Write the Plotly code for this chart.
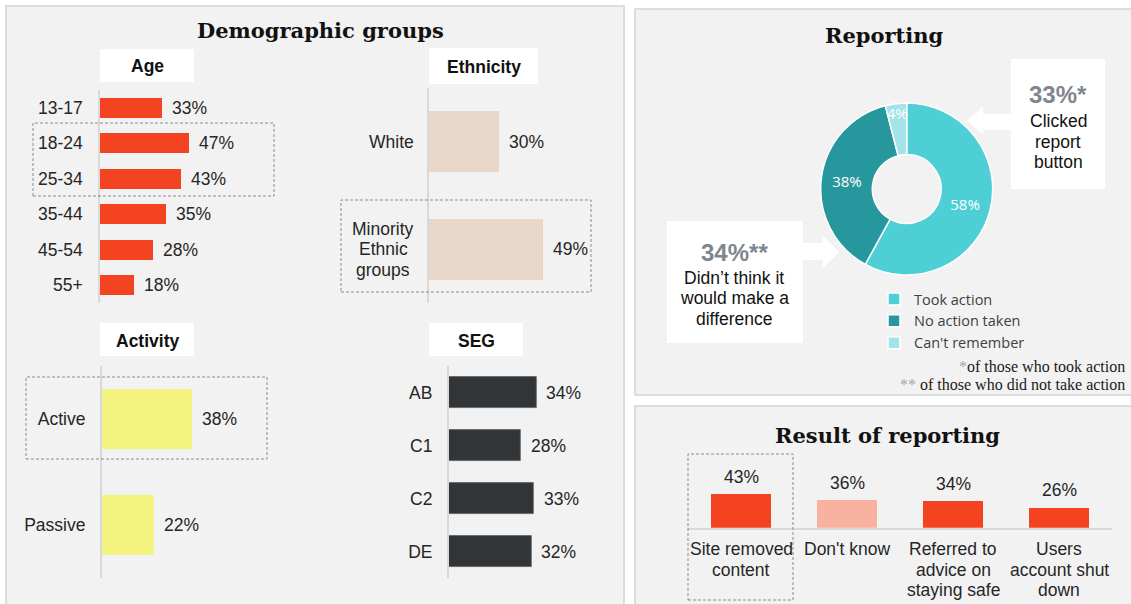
import plotly.graph_objects as go

W, H = 1131, 604


def X(p):
    return p / W


def Y(p):
    return 1 - p / H


# ---- data ----
age_groups = ["13-17", "18-24", "25-34", "35-44", "45-54", "55+"]
age_pct = [33, 47, 43, 35, 28, 18]

ethnicity_groups = ["White", "Minority<br>Ethnic<br>groups"]
ethnicity_pct = [30, 49]

activity_groups = ["Active", "Passive"]
activity_pct = [38, 22]

seg_groups = ["AB", "C1", "C2", "DE"]
seg_pct = [34, 28, 33, 32]

reporting_labels = ["Took action", "No action taken", "Can't remember"]
reporting_pct = [58, 38, 4]

result_labels = ["Site removed<br>content", "Don't know",
                 "Referred to<br>advice on<br>staying safe",
                 "Users<br>account shut<br>down"]
result_pct = [43, 36, 34, 26]

clicked_report_pct = 33
no_difference_pct = 34

# ---- styling ----
SANS = "Liberation Sans, Arial, sans-serif"
SERIF = "DejaVu Serif, Georgia, serif"
TXT = "#262626"
RED = "#F44320"
PANEL = "#F2F2F2"
EDGE = "#D4D4D4"
AXLINE = "#D9D9D9"
FS = 17.5
LINE_H = 20.5

fig = go.Figure()
shapes = []
annotations = []


def rect(x0, y0, x1, y1, fill=None, line=None, dash=None, width=1, layer="below"):
    shapes.append(dict(type="rect", xref="paper", yref="paper",
                       x0=X(x0), x1=X(x1), y0=Y(y1), y1=Y(y0),
                       fillcolor=fill if fill else "rgba(0,0,0,0)",
                       line=dict(color=line if line else "rgba(0,0,0,0)",
                                 width=width if line else 0, dash=dash),
                       layer=layer))


def label(x, y, text, size=FS, color=TXT, family=SANS, xanchor="center", bold=False):
    annotations.append(dict(x=X(x), y=Y(y), xref="paper", yref="paper", text=text,
                            showarrow=False, xanchor=xanchor, yanchor="middle",
                            font=dict(size=size, color=color, family=family,
                                      weight="bold" if bold else "normal")))


# ---- panels ----
rect(6, 6, 624, 620, fill=PANEL, line=EDGE, width=1.5)
rect(635, 9, 1140, 395, fill=PANEL, line=EDGE, width=1.5)
rect(635, 406, 1140, 620, fill=PANEL, line=EDGE, width=1.5)

# section header boxes
headers = [("Age", 100, 49, 194, 82), ("Ethnicity", 429, 48, 538, 84),
           ("Activity", 100, 323, 194, 356), ("SEG", 429, 323, 523, 356)]
for text, x0, y0, x1, y1 in headers:
    rect(x0, y0, x1, y1, fill="white")
    label((x0 + x1) / 2, (y0 + y1) / 2 + 1, text, color="#111111", bold=True)

# titles
label(320, 31, "Demographic groups", size=21, color="#111111", family=SERIF, bold=True)
label(884, 36, "Reporting", size=21, color="#111111", family=SERIF, bold=True)
label(887, 435, "Result of reporting", size=21, color="#111111", family=SERIF, bold=True)


# ---- horizontal bar panels ----
def hbar_panel(n, cats, vals, color, xdom, ydom, width, standoff,
               ticklabels=True, line_color=None):
    s = "" if n == 1 else str(n)
    fig.add_trace(go.Bar(
        x=vals, y=cats, orientation="h", xaxis="x" + s, yaxis="y" + s,
        width=width, showlegend=False, hoverinfo="skip",
        marker=dict(color=color,
                    line=dict(color=line_color or color, width=0.8 if line_color else 0)),
    ))
    fig.layout["xaxis" + s] = dict(domain=[X(xdom[0]), X(xdom[1])], range=[0, 60],
                                   visible=False, anchor="y" + s, fixedrange=True)
    fig.layout["yaxis" + s] = dict(
        domain=[Y(ydom[1]), Y(ydom[0])], type="category",
        categoryorder="array", categoryarray=cats,
        range=[len(cats) - 0.5, -0.5], anchor="x" + s,
        showline=True, linecolor=AXLINE, linewidth=1.5,
        showgrid=False, zeroline=False, ticks="",
        showticklabels=ticklabels, ticklabelstandoff=standoff,
        tickfont=dict(size=FS, color=TXT, family=SANS), fixedrange=True)
    for c, v in zip(cats, vals):
        annotations.append(dict(x=v, y=c, xref="x" + s, yref="y" + s, text=f"{v}%",
                                showarrow=False, xanchor="left", yanchor="middle",
                                xshift=8, font=dict(size=FS, color=TXT, family=SANS)))


hbar_panel(1, age_groups, age_pct, RED, (100, 213.4), (90, 303), 0.56, 12)
hbar_panel(2, ethnicity_groups, ethnicity_pct, "#E8D6C8", (429, 568.8), (88, 303), 0.57, 15,
           ticklabels=False)
hbar_panel(3, activity_groups, activity_pct, "#F5F380", (101.7, 244.5), (366, 578), 0.575, 11)
hbar_panel(4, seg_groups, seg_pct, "#323538", (448.7, 603.5), (366, 578), 0.57, 11,
           line_color="#5a5d60")

# ethnicity labels: each line centred, block ending just left of the axis
for c in ethnicity_groups:
    lines = c.split("<br>")
    k = len(lines)
    for i, ln in enumerate(lines):
        annotations.append(dict(
            x=0, y=c, xref="x2 domain", yref="y2", text=ln, showarrow=False,
            xanchor="right" if k == 1 else "center",
            xshift=-13 if k == 1 else -46,
            yanchor="middle", yshift=-(i - (k - 1) / 2) * LINE_H,
            font=dict(size=FS, color=TXT, family=SANS)))

# dashed highlight boxes
DASH = "3px,2px"
rect(33, 123, 274, 196, line="#8C8C8C", dash=DASH, width=1, layer="above")
rect(341, 200, 591, 292, line="#8C8C8C", dash=DASH, width=1, layer="above")
rect(26, 377, 267, 459, line="#8C8C8C", dash=DASH, width=1, layer="above")
rect(688, 454, 793, 600, line="#8C8C8C", dash=DASH, width=1, layer="above")

# ---- reporting donut ----
fig.add_trace(go.Pie(
    labels=reporting_labels, values=reporting_pct, hole=0.4, sort=False,
    direction="clockwise", rotation=0,
    marker=dict(colors=["#4ECFD6", "#26979D", "#A3E4E9"],
                line=dict(color="white", width=1.5)),
    texttemplate="%{value}%", textposition="inside", insidetextorientation="horizontal",
    textfont=dict(color="white", size=15, family="Open Sans"),
    domain=dict(x=[X(820.7), X(992.7)], y=[Y(275), Y(103)]),
    hoverinfo="skip", showlegend=True,
))

# call-out boxes with block arrows
rect(1011, 59, 1105, 189, fill="white")
rect(667, 221, 803, 343, fill="white")


def poly(points):
    d = "M " + " L ".join(f"{X(x)},{Y(y)}" for x, y in points) + " Z"
    shapes.append(dict(type="path", xref="paper", yref="paper", path=d,
                       fillcolor="white", line=dict(width=0), layer="below"))


poly([(1012, 114), (983, 114), (983, 106.5), (966.5, 120.5), (983, 134.5), (983, 130), (1012, 130)])
poly([(802, 243), (823, 243), (823, 236), (839.5, 252), (823, 268), (823, 260), (802, 260)])

GREY = "#7F868D"
label(1058, 94, f"{clicked_report_pct}%*", size=24, color=GREY, bold=True)
for i, t in enumerate(["Clicked", "report", "button"]):
    label(1058, 121 + LINE_H * i, t, color="#111111")

label(734, 252, f"{no_difference_pct}%**", size=24, color=GREY, bold=True)
for i, t in enumerate(["Didn\u2019t think it", "would make a", "difference"]):
    label(734, 278 + LINE_H * i, t, color="#111111")

# footnotes
FOOT = "Liberation Serif, Times New Roman, serif"
label(1127, 366, "<span style='color:#A6A6A6'>*</span>of those who took action",
      size=16, color="#1a1a1a", family=FOOT, xanchor="right")
label(1127, 384, "<span style='color:#A6A6A6'>**</span> of those who did not take action",
      size=16, color="#1a1a1a", family=FOOT, xanchor="right")

# ---- result of reporting column chart ----
fig.add_trace(go.Bar(
    x=result_labels, y=result_pct, xaxis="x5", yaxis="y5", width=0.57,
    marker=dict(color=[RED, "#F9B2A2", RED, RED], line=dict(width=0)),
    showlegend=False, hoverinfo="skip",
))
fig.layout["xaxis5"] = dict(domain=[X(688), X(1112)], type="category",
                            categoryorder="array", categoryarray=result_labels,
                            range=[-0.5, 3.5], anchor="y5", showline=True,
                            linecolor=AXLINE, linewidth=1.5, showgrid=False, ticks="",
                            showticklabels=False, fixedrange=True)
fig.layout["yaxis5"] = dict(domain=[Y(527.7), Y(488.7)], range=[0, 50], visible=False,
                            anchor="x5", fixedrange=True)
for c, v in zip(result_labels, result_pct):
    annotations.append(dict(x=c, y=v, xref="x5", yref="y5", text=f"{v}%", showarrow=False,
                            xanchor="center", yanchor="bottom", yshift=5,
                            font=dict(size=FS, color=TXT, family=SANS)))
    # category names under the baseline, one line at a time
    for i, ln in enumerate(c.split("<br>")):
        annotations.append(dict(x=c, y=0, xref="x5", yref="y5", text=ln, showarrow=False,
                                xanchor="center", yanchor="middle",
                                yshift=-21.5 - LINE_H * i,
                                font=dict(size=FS, color=TXT, family=SANS)))

fig.update_layout(
    width=W, height=H, autosize=False,
    margin=dict(l=0, r=0, t=0, b=0),
    paper_bgcolor="white", plot_bgcolor="rgba(0,0,0,0)",
    shapes=shapes, annotations=annotations,
    uniformtext=dict(minsize=15, mode="show"),
    legend=dict(x=X(874), y=Y(283), xanchor="left", yanchor="top",
                font=dict(family="Open Sans", size=14.5, color="#404040"),
                bgcolor="rgba(0,0,0,0)", itemwidth=30, tracegroupgap=0,
                itemclick=False, itemdoubleclick=False),
    bargap=0,
)

fig.write_html("out.html", config={"displayModeBar": False})
